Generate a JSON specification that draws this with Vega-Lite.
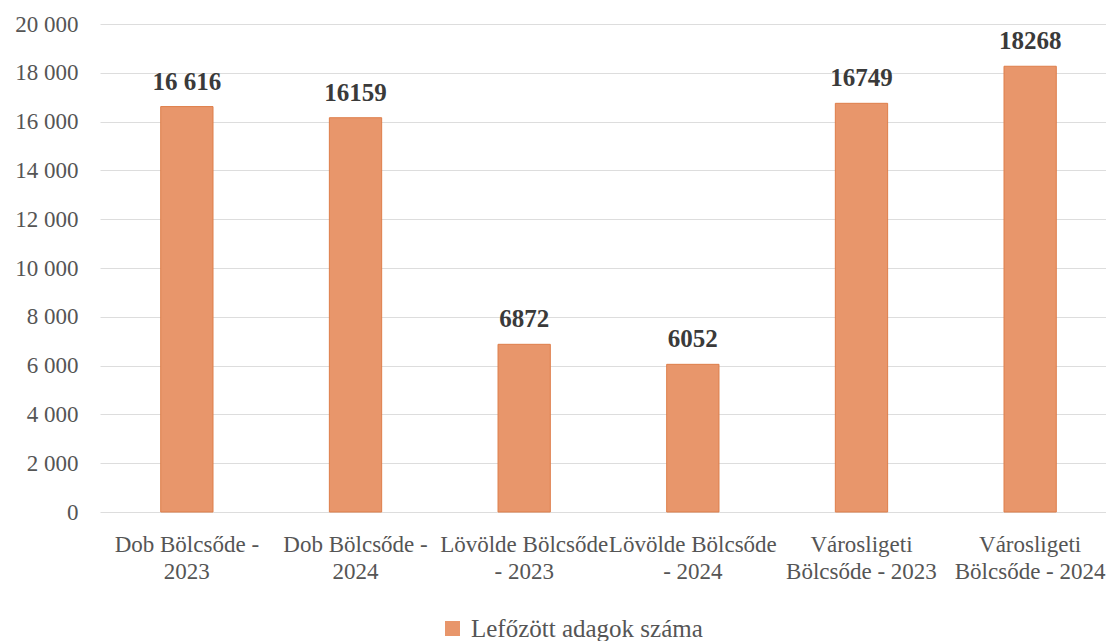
{
  "$schema": "https://vega.github.io/schema/vega-lite/v6.json",
  "width": 1017,
  "height": 488,
  "autosize": {"type": "none"},
  "padding": {"left": 100, "top": 24, "right": 0, "bottom": 129},
  "background": "white",
  "data": {
    "values": [
      {"cat": "Dob Bölcsőde -|2023", "value": 16616, "label": "16 616", "series": "Lefőzött adagok száma"},
      {"cat": "Dob Bölcsőde -|2024", "value": 16159, "label": "16159", "series": "Lefőzött adagok száma"},
      {"cat": "Lövölde Bölcsőde|- 2023", "value": 6872, "label": "6872", "series": "Lefőzött adagok száma"},
      {"cat": "Lövölde Bölcsőde|- 2024", "value": 6052, "label": "6052", "series": "Lefőzött adagok száma"},
      {"cat": "Városligeti|Bölcsőde - 2023", "value": 16749, "label": "16749", "series": "Lefőzött adagok száma"},
      {"cat": "Városligeti|Bölcsőde - 2024", "value": 18268, "label": "18268", "series": "Lefőzött adagok száma"}
    ]
  },
  "encoding": {
    "x": {
      "field": "cat",
      "type": "nominal",
      "sort": null,
      "scale": {"paddingInner": 0.69, "paddingOuter": 0.36},
      "axis": {
        "title": null,
        "labelAngle": 0,
        "labelExpr": "split(datum.label, '|')",
        "labelFont": "Liberation Serif",
        "labelFontSize": 23,
        "labelColor": "#555555",
        "labelPadding": 21,
        "labelLineHeight": 27,
        "labelLimit": 400,
        "labelOverlap": false,
        "ticks": false,
        "domain": false
      }
    },
    "y": {
      "field": "value",
      "type": "quantitative",
      "scale": {"domain": [0, 20000]},
      "axis": {
        "title": null,
        "values": [0, 2000, 4000, 6000, 8000, 10000, 12000, 14000, 16000, 18000, 20000],
        "labelExpr": "replace(format(datum.value, ','), ',', ' ')",
        "labelFont": "Liberation Serif",
        "labelFontSize": 23,
        "labelColor": "#555555",
        "labelPadding": 22,
        "labelOverlap": false,
        "ticks": false,
        "domain": false,
        "grid": true,
        "gridColor": "#dddddd",
        "gridWidth": 1
      }
    }
  },
  "layer": [
    {
      "mark": {"type": "bar", "stroke": "#DE7E4A", "strokeWidth": 1},
      "encoding": {
        "color": {
          "field": "series",
          "type": "nominal",
          "scale": {"range": ["#E8966B"]},
          "legend": {
            "title": null,
            "orient": "none",
            "legendX": 340,
            "legendY": 592,
            "symbolType": "square",
            "symbolSize": 225,
            "symbolStrokeWidth": 0,
            "labelFont": "Liberation Serif",
            "labelFontSize": 25,
            "labelColor": "#555555",
            "labelOffset": 6,
            "labelLimit": 400
          }
        }
      }
    },
    {
      "mark": {
        "type": "text",
        "dy": -25,
        "font": "Liberation Serif",
        "fontSize": 25,
        "fontWeight": "bold",
        "color": "#3a3a3a"
      },
      "encoding": {"text": {"field": "label"}}
    }
  ],
  "config": {"view": {"stroke": null}}
}
